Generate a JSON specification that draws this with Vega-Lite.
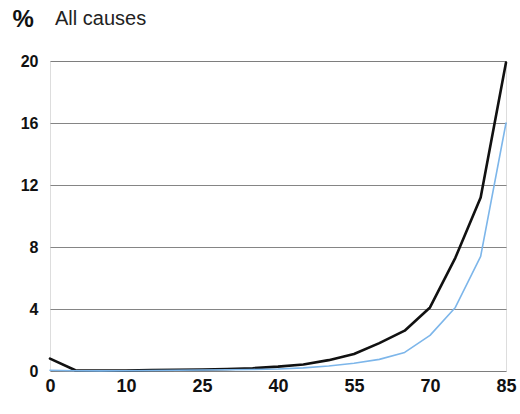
{
  "$schema": "https://vega.github.io/schema/vega-lite/v6.json",
  "width": 456,
  "height": 310,
  "autosize": "none",
  "padding": {"left": 50, "top": 61, "right": 14, "bottom": 43},
  "background": "white",
  "title": {"text": "All causes", "anchor": "start", "frame": "group", "offset": -22, "dx": 5, "fontSize": 20, "fontWeight": "normal", "font": "Liberation Sans", "color": "#222"},
  "data": {"values": [
    {"age": 0, "s": "a", "v": 0.8}, {"age": 1, "s": "a", "v": 0.05}, {"age": 5, "s": "a", "v": 0.03}, {"age": 10, "s": "a", "v": 0.03},
    {"age": 15, "s": "a", "v": 0.06}, {"age": 20, "s": "a", "v": 0.08}, {"age": 25, "s": "a", "v": 0.1}, {"age": 30, "s": "a", "v": 0.13},
    {"age": 35, "s": "a", "v": 0.18}, {"age": 40, "s": "a", "v": 0.28}, {"age": 45, "s": "a", "v": 0.42}, {"age": 50, "s": "a", "v": 0.7},
    {"age": 55, "s": "a", "v": 1.1}, {"age": 60, "s": "a", "v": 1.8}, {"age": 65, "s": "a", "v": 2.6}, {"age": 70, "s": "a", "v": 4.1},
    {"age": 75, "s": "a", "v": 7.3}, {"age": 80, "s": "a", "v": 11.2}, {"age": 85, "s": "a", "v": 19.9},
    {"age": 0, "s": "b", "v": 0.05}, {"age": 1, "s": "b", "v": 0.02}, {"age": 5, "s": "b", "v": 0.01}, {"age": 10, "s": "b", "v": 0.02},
    {"age": 15, "s": "b", "v": 0.03}, {"age": 20, "s": "b", "v": 0.05}, {"age": 25, "s": "b", "v": 0.06}, {"age": 30, "s": "b", "v": 0.08},
    {"age": 35, "s": "b", "v": 0.1}, {"age": 40, "s": "b", "v": 0.13}, {"age": 45, "s": "b", "v": 0.2}, {"age": 50, "s": "b", "v": 0.32},
    {"age": 55, "s": "b", "v": 0.5}, {"age": 60, "s": "b", "v": 0.75}, {"age": 65, "s": "b", "v": 1.2}, {"age": 70, "s": "b", "v": 2.3},
    {"age": 75, "s": "b", "v": 4.1}, {"age": 80, "s": "b", "v": 7.4}, {"age": 85, "s": "b", "v": 16.0}
  ]},
  "mark": {"type": "line", "interpolate": "linear", "strokeJoin": "round", "strokeCap": "round"},
  "encoding": {
    "x": {"field": "age", "type": "ordinal", "sort": "ascending",
      "scale": {"type": "point", "padding": 0},
      "axis": {"title": null, "labelAngle": 0, "ticks": false, "domain": false, "grid": false,
        "labelExpr": "indexof(['0','10','25','40','55','70','85'], datum.label) >= 0 ? datum.label : ''",
        "labelFont": "Liberation Sans", "labelFontSize": 18, "labelFontWeight": "bold", "labelColor": "#111", "labelPadding": 6}},
    "y": {"field": "v", "type": "quantitative",
      "scale": {"domain": [0, 20], "nice": false},
      "axis": {"values": [0, 4, 8, 12, 16, 20], "title": "%", "titleAngle": 0, "titleAlign": "left", "titleBaseline": "middle",
        "titleX": -38, "titleY": -42, "titleFontSize": 24, "titleFontWeight": "bold", "titleFont": "Liberation Sans", "titleColor": "#111",
        "ticks": false, "domain": false, "gridColor": "#666", "gridWidth": 0.8,
        "labelFont": "Liberation Sans", "labelFontSize": 16, "labelFontWeight": "bold", "labelColor": "#111", "labelPadding": 12}},
    "color": {"field": "s", "type": "nominal", "scale": {"domain": ["a", "b"], "range": ["#111111", "#7db6ea"]}, "legend": null},
    "strokeWidth": {"field": "s", "type": "nominal", "scale": {"domain": ["a", "b"], "range": [2.6, 1.6]}, "legend": null}
  }
}
